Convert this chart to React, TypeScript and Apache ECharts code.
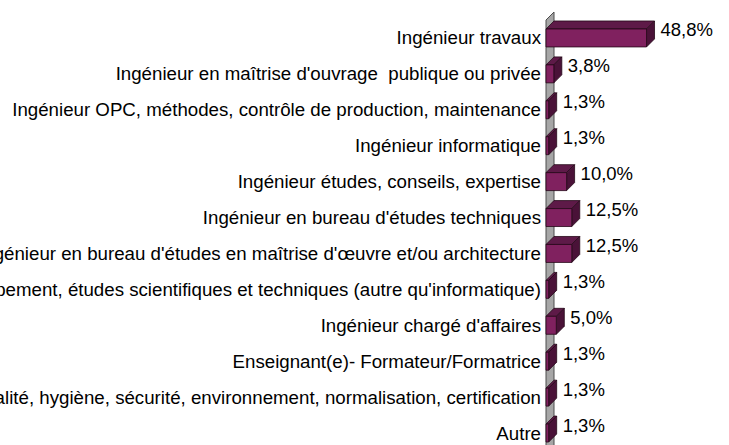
import React, { useEffect, useRef } from "react";
import * as echarts from "echarts";

const categories: string[] = [
  "Ingénieur travaux",
  "Ingénieur en maîtrise d'ouvrage  publique ou privée",
  "Ingénieur OPC, méthodes, contrôle de production, maintenance",
  "Ingénieur informatique",
  "Ingénieur études, conseils, expertise",
  "Ingénieur en bureau d'études techniques",
  "Ingénieur en bureau d'études en maîtrise d'œuvre et/ou architecture",
  "Ingénieur recherche et développement, études scientifiques et techniques (autre qu'informatique)",
  "Ingénieur chargé d'affaires",
  "Enseignant(e)- Formateur/Formatrice",
  "Ingénieur qualité, hygiène, sécurité, environnement, normalisation, certification",
  "Autre",
];

const values: number[] = [48.8, 3.8, 1.3, 1.3, 10.0, 12.5, 12.5, 1.3, 5.0, 1.3, 1.3, 1.3];

const DEPTH = 8;
const FONT = "'Liberation Sans', Arial, sans-serif";

export default function App() {
  const ref = useRef<HTMLDivElement>(null);

  useEffect(() => {
    if (!ref.current) return;
    const chart = echarts.init(ref.current, undefined, { renderer: "svg" });

    const barData = values.map((v, i) => [v, i]);

    chart.setOption({
      animation: false,
      backgroundColor: "#ffffff",
      grid: {
        left: 546,
        top: 20,
        width: 206,
        height: 431,
        containLabel: false,
        outerBoundsMode: "none",
      },
      xAxis: {
        type: "value",
        min: 0,
        max: 100,
        show: false,
      },
      yAxis: {
        type: "category",
        data: categories,
        inverse: true,
        axisLine: { show: false },
        axisTick: { show: false },
        splitLine: { show: false },
        axisLabel: {
          margin: 5,
          fontSize: 18.7,
          fontFamily: FONT,
          color: "#000000",
        },
      },
      series: [
        {
          type: "custom",
          name: "wall",
          silent: true,
          data: [[0, 0]],
          encode: { x: 0, y: 1 },
          z: 1,
          clip: false,
          renderItem: (params: any, api: any) => {
            const cs = params.coordSys;
            const x = cs.x;
            const top = cs.y;
            const bottom = cs.y + cs.height + 30;
            return {
              type: "polygon",
              shape: {
                points: [
                  [x, top],
                  [x + DEPTH, top - DEPTH],
                  [x + DEPTH, bottom],
                  [x, bottom],
                ],
              },
              style: { fill: "#a6a6a6", stroke: "#4d4d4d", lineWidth: 1 },
            };
          },
        },
        {
          type: "custom",
          name: "bars",
          data: barData,
          encode: { x: 0, y: 1 },
          z: 2,
          clip: false,
          renderItem: (params: any, api: any) => {
            const v = api.value(0);
            const idx = api.value(1);
            const p1 = api.coord([v, idx]);
            const p0 = api.coord([0, idx]);
            const band = api.size([0, 1])[1];
            const h = band * 0.5;
            const x0 = p0[0];
            const x1 = p1[0];
            const yc = p1[1];
            const yt = yc - h / 2;
            const yb = yc + h / 2;
            const stroke = "#240818";
            return {
              type: "group",
              children: [
                {
                  type: "polygon",
                  shape: {
                    points: [
                      [x0, yt],
                      [x1, yt],
                      [x1 + DEPTH, yt - DEPTH],
                      [x0 + DEPTH, yt - DEPTH],
                    ],
                  },
                  style: { fill: "#5e1a48", stroke, lineWidth: 0.8 },
                },
                {
                  type: "polygon",
                  shape: {
                    points: [
                      [x1, yt],
                      [x1 + DEPTH, yt - DEPTH],
                      [x1 + DEPTH, yb - DEPTH],
                      [x1, yb],
                    ],
                  },
                  style: { fill: "#4a1238", stroke, lineWidth: 0.8 },
                },
                {
                  type: "rect",
                  shape: { x: x0, y: yt, width: Math.max(x1 - x0, 0.5), height: h },
                  style: { fill: "#80215f", stroke, lineWidth: 0.8 },
                },
                {
                  type: "text",
                  style: {
                    text: v.toFixed(1).replace(".", ",") + "%",
                    x: x1 + DEPTH + 6,
                    y: yc - DEPTH,
                    align: "left",
                    verticalAlign: "middle",
                    fontSize: 18.5,
                    fontFamily: FONT,
                    fill: "#000000",
                  },
                },
              ],
            };
          },
        },
      ],
    });

    return () => {
      chart.dispose();
    };
  }, []);

  return (
    <div
      ref={ref}
      style={{ position: "fixed", left: 0, top: 0, width: 729, height: 445, background: "#fff" }}
    />
  );
}
